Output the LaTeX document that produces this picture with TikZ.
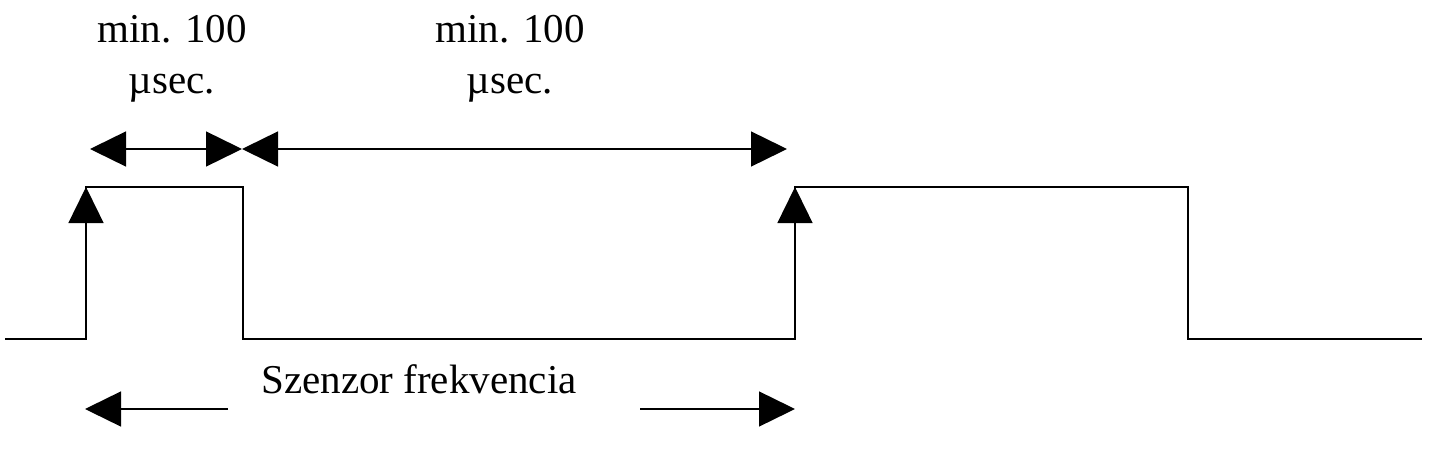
\documentclass[tikz,border=0pt]{standalone}
\usepackage{fontspec}
\setmainfont{Liberation Serif}
\usetikzlibrary{arrows.meta}
\begin{document}
\begin{tikzpicture}[x=1pt,y=-1pt,
  sig/.style={line width=1.4pt,line join=miter},
  dim/.style={line width=1.4pt,{Triangle[length=36pt,width=35pt]}-{Triangle[length=36pt,width=35pt]}},
  onehead/.style={line width=1.4pt,-{Triangle[length=36pt,width=35pt]}},
  lbl/.style={font=\fontsize{41}{49}\selectfont,inner sep=0pt,anchor=base}]
\useasboundingbox (0,0) rectangle (1444,455);
% signal
\coordinate (s0) at (5,339);
\coordinate (r1) at (86,339);
\coordinate (h1) at (86,187);
\coordinate (f1) at (243,187);
\coordinate (r2) at (795,339);
\coordinate (h2) at (795,187);
\coordinate (f2) at (1188,187);
\coordinate (s9) at (1422,339);
\draw[sig] (s0) -- (r1) -- (h1) -- (f1) |- (r2) -- (h2) -- (f2) |- (s9);
% rising edge arrows
\draw[onehead] (r1) -- (h1);
\draw[onehead] (r2) -- (h2);
% top dimension arrows
\coordinate (t0) at (90,149);
\coordinate (t1) at (242,149);
\coordinate (t2) at (787,149);
\draw[dim] (t0) -- (t1);
\draw[dim] (t1) -- (t2);
% labels
\node[lbl] (a1) at (172,42) {min. 100};
\node[lbl] (a2) at (172,93) {µsec.};
\node[lbl] (b1) at (510,42) {min. 100};
\node[lbl] (b2) at (510,93) {µsec.};
\node[lbl] (sz) at (419,393) {Szenzor frekvencia};
% bottom arrows
\coordinate (bl0) at (228,409);
\coordinate (bl1) at (85,409);
\coordinate (br0) at (640,409);
\coordinate (br1) at (795,409);
\draw[onehead] (bl0) -- (bl1);
\draw[onehead] (br0) -- (br1);
\end{tikzpicture}
\end{document}
